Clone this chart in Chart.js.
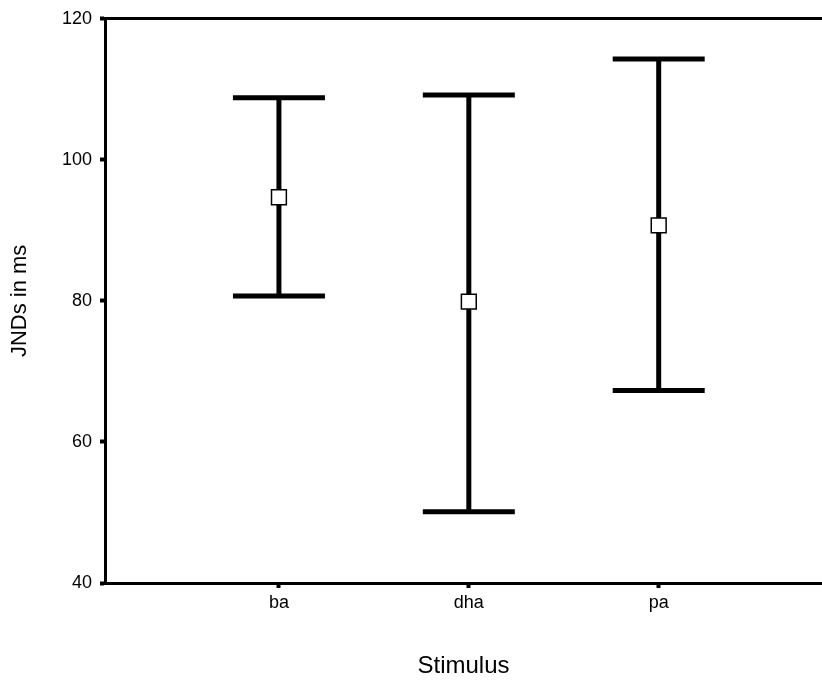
<!DOCTYPE html>
<html>
<head>
<meta charset="utf-8">
<script src="https://cdn.jsdelivr.net/npm/chart.js@4"></script>
<style>
  html, body { margin: 0; padding: 0; background: #fff; overflow: hidden; }
  #wrap { width: 822px; height: 681px; overflow: hidden; }
</style>
</head>
<body>
<div id="wrap"><canvas id="c" width="834" height="681"></canvas></div>
<script>
// ---- data ----
const categories = ['ba', 'dha', 'pa'];
const means = [94.7, 79.9, 90.7];
const lower = [80.7, 50.1, 67.3];
const upper = [108.8, 109.2, 114.3];
const yTicks = [40, 60, 80, 100, 120];

const meanPoints = categories.map((c, i) => ({ x: i + 1, y: means[i] }));

const errorBarPlugin = {
  id: 'errorBars',
  beforeDatasetsDraw(chart) {
    const { ctx, scales: { x, y } } = chart;
    ctx.save();
    ctx.strokeStyle = '#000';
    ctx.lineCap = 'butt';
    categories.forEach((c, i) => {
      const px = x.getPixelForValue(i + 1);
      const pLo = y.getPixelForValue(lower[i]);
      const pHi = y.getPixelForValue(upper[i]);
      ctx.lineWidth = 5;
      ctx.beginPath();
      ctx.moveTo(px, pLo);
      ctx.lineTo(px, pHi);
      ctx.stroke();
      ctx.beginPath();
      ctx.moveTo(px - 46, pHi);
      ctx.lineTo(px + 46, pHi);
      ctx.moveTo(px - 46, pLo);
      ctx.lineTo(px + 46, pLo);
      ctx.stroke();
    });
    ctx.restore();
  }
};

new Chart(document.getElementById('c'), {
  type: 'scatter',
  data: {
    datasets: [{
      data: meanPoints,
      pointStyle: 'rect',
      pointRadius: 10.5,
      pointHoverRadius: 10.5,
      pointBackgroundColor: '#fff',
      pointBorderColor: '#000',
      pointBorderWidth: 1.5
    }]
  },
  options: {
    responsive: false,
    animation: false,
    events: [],
    layout: { padding: { top: 12, right: 0, left: 0, bottom: 0 } },
    plugins: { legend: { display: false }, tooltip: { enabled: false } },
    scales: {
      x: {
        type: 'linear',
        min: 0.084,
        max: 3.86,
        afterBuildTicks(scale) { scale.ticks = categories.map((c, i) => ({ value: i + 1 })); },
        afterFit(scale) { scale.height = 98; },
        ticks: {
          callback: (v) => categories[Math.round(v) - 1] ?? '',
          color: '#000',
          font: { family: 'Liberation Sans, Arial, sans-serif', size: 18 },
          padding: 4,
          maxRotation: 0,
          autoSkip: false
        },
        grid: { drawOnChartArea: false, drawTicks: true, tickLength: 5, tickWidth: 4, tickColor: '#000' },
        border: { display: true, color: '#000', width: 3 },
        title: {
          display: true,
          text: 'Stimulus',
          color: '#000',
          font: { family: 'Liberation Sans, Arial, sans-serif', size: 24 },
          padding: { top: 5, bottom: 0 }
        }
      },
      y: {
        min: 40,
        max: 120,
        afterBuildTicks(scale) { scale.ticks = yTicks.map(v => ({ value: v })); },
        afterFit(scale) { scale.width = 105; },
        ticks: {
          color: '#000',
          font: { family: 'Liberation Sans, Arial, sans-serif', size: 18 },
          padding: 8
        },
        grid: {
          drawOnChartArea: true,
          color: (ctx) => (ctx.tick && ctx.tick.value === 120 ? '#000' : 'rgba(0,0,0,0)'),
          lineWidth: 3,
          drawTicks: true,
          tickLength: 5,
          tickWidth: 4,
          tickColor: '#000'
        },
        border: { display: true, color: '#000', width: 3 },
        title: {
          display: true,
          text: 'JNDs in ms',
          color: '#000',
          font: { family: 'Liberation Sans, Arial, sans-serif', size: 22 },
          padding: { top: 7, bottom: 0 }
        }
      }
    }
  },
  plugins: [errorBarPlugin]
});
</script>
</body>
</html>
